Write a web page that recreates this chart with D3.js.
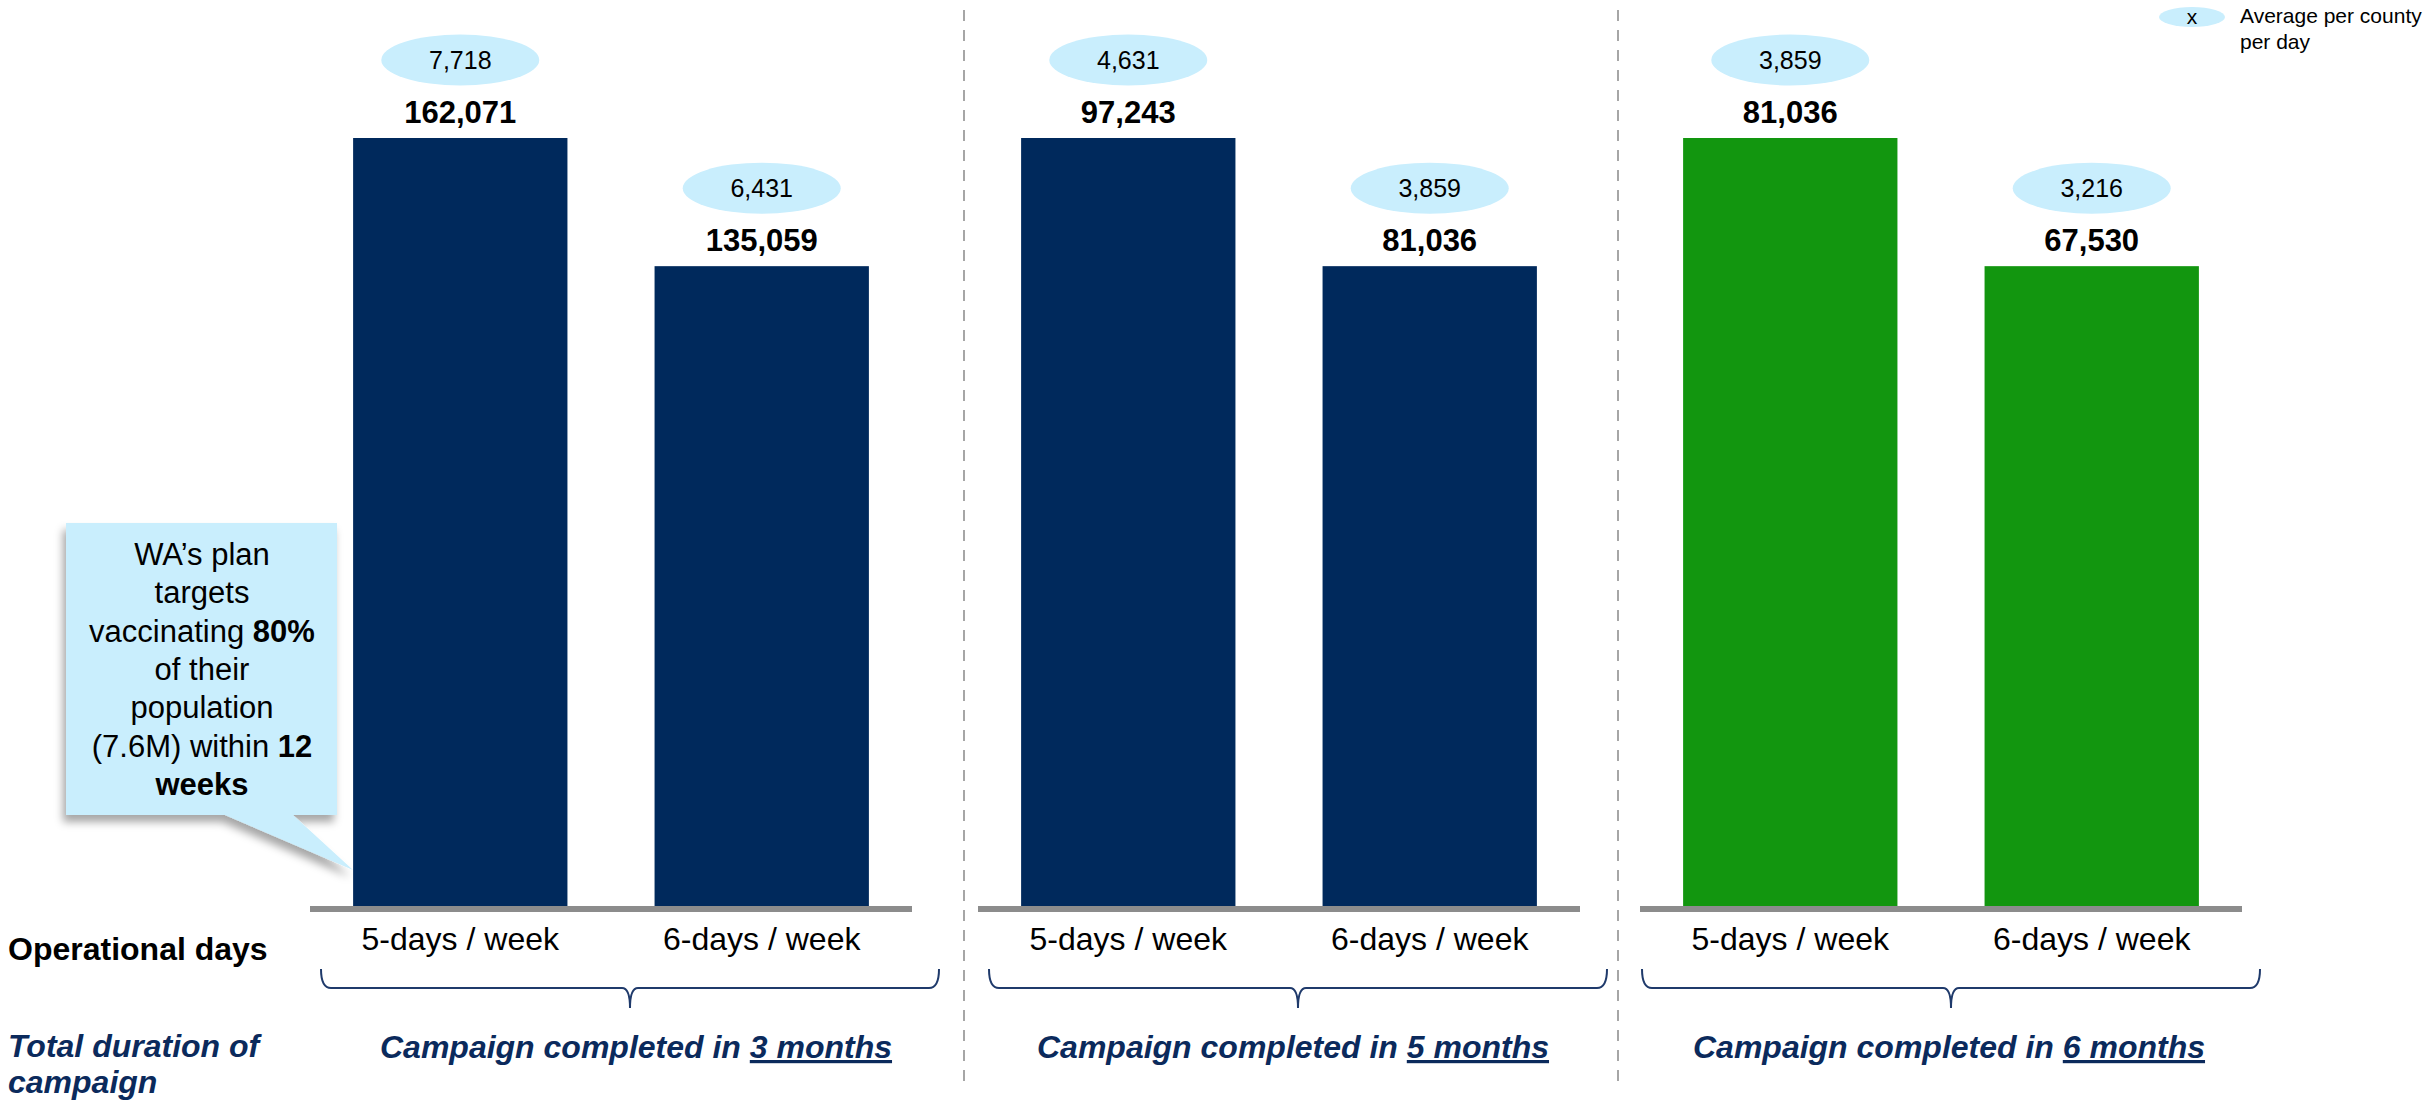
<!DOCTYPE html>
<html>
<head>
<meta charset="utf-8">
<script src="https://cdn.jsdelivr.net/npm/d3@7"></script>
<style>
  body { margin: 0; background: #fff; }
  text { font-family: "Liberation Sans", Arial, sans-serif; }
</style>
</head>
<body>
<div id="chart"></div>
<script>
// data
const panels = ["3 months", "5 months", "6 months"];
const categories = ["5-days / week", "6-days / week"];
const totals = [[162071, 135059], [97243, 81036], [81036, 67530]];
const averages = [[7718, 6431], [4631, 3859], [3859, 3216]];
const barColors = ["#00295c", "#00295c", "#12960f"];

const width = 2431, height = 1102;
const baseY = 907, topY = 138;
const panelW = 602;
const navy = "#0b2a5c";

const svg = d3.select("#chart").append("svg")
  .attr("width", width).attr("height", height);

const defs = svg.append("defs");
defs.append("filter").attr("id", "shadow")
  .attr("x", "-20%").attr("y", "-20%").attr("width", "140%").attr("height", "140%")
  .append("feDropShadow")
  .attr("dx", -3).attr("dy", 7).attr("stdDeviation", 4)
  .attr("flood-color", "#000").attr("flood-opacity", 0.35);

const fmt = d3.format(",");

// left edge of each panel's baseline
const panelX = d3.scaleOrdinal().domain(panels).range([310, 978, 1640]);
// brace / caption offsets from panel centre (hand placed in the original slide)
const braceShift = [19, 19, 10];
const textShift = [25, 14, 8];

// dividers between panels
const dividerX = [964, 1618];
svg.selectAll("line.divider")
  .data(dividerX)
  .join("line")
  .attr("class", "divider")
  .attr("x1", d => d).attr("x2", d => d)
  .attr("y1", 10).attr("y2", 1085)
  .attr("stroke", "#a6a6a6")
  .attr("stroke-width", 2)
  .attr("stroke-dasharray", "11,9");

panels.forEach((p, i) => {
  const x0 = panelX(p);

  const x = d3.scaleBand()
    .domain(categories)
    .range([x0, x0 + panelW])
    .paddingInner(0.289)
    .paddingOuter(0.143);

  const y = d3.scaleLinear()
    .domain([0, d3.max(totals[i])])
    .range([baseY, topY]);

  const g = svg.append("g");
  const rows = categories.map((c, j) => ({ cat: c, total: totals[i][j], avg: averages[i][j] }));

  g.selectAll("rect.bar")
    .data(rows)
    .join("rect")
    .attr("class", "bar")
    .attr("x", d => x(d.cat))
    .attr("y", d => y(d.total))
    .attr("width", x.bandwidth())
    .attr("height", d => baseY - y(d.total))
    .attr("fill", barColors[i]);

  // baseline
  g.append("rect")
    .attr("x", x0).attr("y", baseY - 1)
    .attr("width", panelW).attr("height", 6)
    .attr("fill", "#8c8c8c");

  // totals
  g.selectAll("text.total")
    .data(rows)
    .join("text")
    .attr("class", "total")
    .attr("x", d => x(d.cat) + x.bandwidth() / 2)
    .attr("y", d => y(d.total) - 15)
    .attr("text-anchor", "middle")
    .attr("font-size", 31)
    .attr("font-weight", "bold")
    .text(d => fmt(d.total));

  // averages bubbles
  g.selectAll("ellipse.avg")
    .data(rows)
    .join("ellipse")
    .attr("class", "avg")
    .attr("cx", d => x(d.cat) + x.bandwidth() / 2)
    .attr("cy", d => y(d.total) - 78)
    .attr("rx", 79).attr("ry", 25.5)
    .attr("fill", "#c9eefd");

  g.selectAll("text.avg")
    .data(rows)
    .join("text")
    .attr("class", "avg")
    .attr("x", d => x(d.cat) + x.bandwidth() / 2)
    .attr("y", d => y(d.total) - 78 + 9)
    .attr("text-anchor", "middle")
    .attr("font-size", 25)
    .text(d => fmt(d.avg));

  // category labels
  g.selectAll("text.cat")
    .data(categories)
    .join("text")
    .attr("class", "cat")
    .attr("x", d => x(d) + x.bandwidth() / 2)
    .attr("y", 950)
    .attr("text-anchor", "middle")
    .attr("font-size", 32)
    .text(d => d);

  // brace
  const cx = x0 + panelW / 2 + braceShift[i];
  const bx0 = cx - 309, bx1 = cx + 309;
  const by0 = 969, by = 988, by1 = 1008;
  g.append("path")
    .attr("d", `M${bx0},${by0} Q${bx0},${by} ${bx0 + 10},${by} L${cx - 8},${by} Q${cx},${by} ${cx},${by1} Q${cx},${by} ${cx + 8},${by} L${bx1 - 10},${by} Q${bx1},${by} ${bx1},${by0}`)
    .attr("fill", "none")
    .attr("stroke", "#1f3a6b")
    .attr("stroke-width", 2);

  const t = g.append("text")
    .attr("x", x0 + panelW / 2 + textShift[i])
    .attr("y", 1058)
    .attr("text-anchor", "middle")
    .attr("font-size", 32)
    .attr("font-weight", "bold")
    .attr("font-style", "italic")
    .attr("fill", navy);
  t.append("tspan").text("Campaign completed in ");
  t.append("tspan").style("text-decoration", "underline").text(p);
});

// left labels
svg.append("text")
  .attr("x", 8).attr("y", 960)
  .attr("font-size", 32).attr("font-weight", "bold")
  .text("Operational days");

svg.append("text")
  .attr("x", 8).attr("y", 1057)
  .attr("font-size", 32).attr("font-weight", "bold").attr("font-style", "italic")
  .attr("fill", navy)
  .selectAll("tspan")
  .data(["Total duration of", "campaign"])
  .join("tspan")
  .attr("x", 8)
  .attr("dy", (d, i) => i ? 36 : 0)
  .text(d => d);

// callout
const callout = svg.append("g");
callout.append("path")
  .attr("d", "M66,523 L337,523 L337,815 L293,815 L353,870 L225,815 L66,815 Z")
  .attr("fill", "#c9eefd")
  .attr("filter", "url(#shadow)");

const calloutLines = [
  [["WA’s plan", false]],
  [["targets", false]],
  [["vaccinating ", false], ["80%", true]],
  [["of their", false]],
  [["population", false]],
  [["(7.6M) within ", false], ["12", true]],
  [["weeks", true]]
];
const ct = callout.append("text")
  .attr("text-anchor", "middle")
  .attr("font-size", 31);
calloutLines.forEach((line, i) => {
  const row = ct.append("tspan").attr("x", 202).attr("y", 565 + i * 38.3);
  line.forEach(([s, b]) => {
    row.append("tspan").attr("font-weight", b ? "bold" : "normal").text(s);
  });
});

// legend
svg.append("ellipse")
  .attr("cx", 2192).attr("cy", 17)
  .attr("rx", 33).attr("ry", 10)
  .attr("fill", "#c9eefd");
svg.append("text")
  .attr("x", 2192).attr("y", 24)
  .attr("text-anchor", "middle")
  .attr("font-size", 21)
  .text("x");
svg.append("text")
  .attr("font-size", 21)
  .selectAll("tspan")
  .data(["Average per county", "per day"])
  .join("tspan")
  .attr("x", 2240)
  .attr("y", (d, i) => 23 + i * 26)
  .text(d => d);
</script>
</body>
</html>
